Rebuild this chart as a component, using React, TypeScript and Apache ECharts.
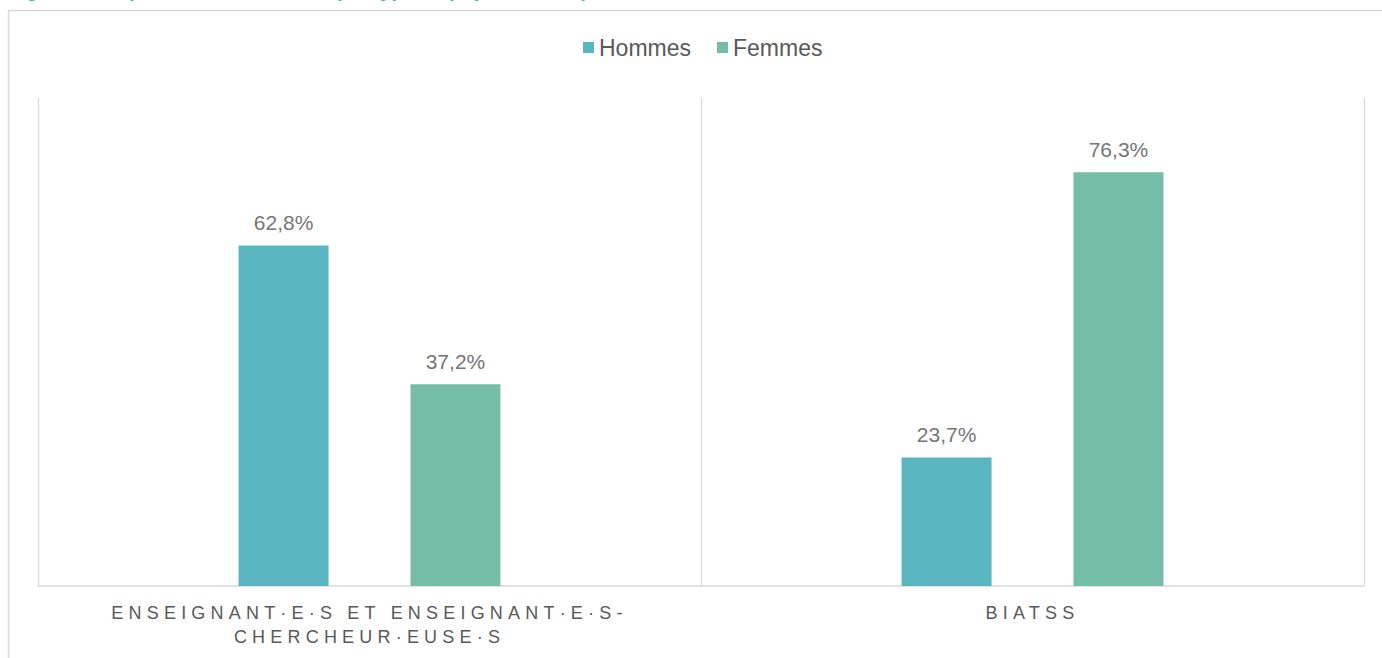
import React, { useEffect, useRef } from "react";
import * as echarts from "echarts";

const titleText =
  "Figure 3 : Répartition des effectifs par type de population et par sexe en 2019";
const categories = [
  "ENSEIGNANT·E·S ET ENSEIGNANT·E·S-\nCHERCHEUR·EUSE·S",
  "BIATSS",
];
const seriesNames = ["Hommes", "Femmes"];
const hommes = [62.8, 23.7];
const femmes = [37.2, 76.3];
const colors = ["#59b5bf", "#76bda7"];

const FONT = "'Liberation Sans', Arial, sans-serif";

export default function App() {
  const ref = useRef<HTMLDivElement>(null);
  useEffect(() => {
    if (!ref.current) return;
    const chart = echarts.init(ref.current, null, { renderer: "svg" });
    const fmt = (p: any) => p.value.toFixed(1).replace(".", ",") + "%";
    const label = {
      show: true,
      position: "top",
      distance: 12,
      formatter: fmt,
      fontSize: 21,
      color: "#767676",
      fontFamily: FONT,
    };
    chart.setOption({
      animation: false,
      backgroundColor: "#ffffff",
      textStyle: { fontFamily: FONT },
      graphic: [
        {
          type: "rect",
          shape: { x: 8.5, y: 10.5, width: 1420, height: 700 },
          style: { fill: "none", stroke: "#d9d9d9", lineWidth: 1.5 },
          silent: true,
        },
        {
          type: "text",
          x: 8,
          y: 0,
          style: {
            text: titleText,
            fill: "#4aa9c2",
            font: "bold 20px " + FONT,
            verticalAlign: "bottom",
          },
          silent: true,
        },
      ],
      legend: {
        data: seriesNames,
        left: 578,
        top: 31,
        itemWidth: 11,
        itemHeight: 11,
        itemGap: 26,
        icon: "rect",
        textStyle: { fontSize: 23, color: "#595959", fontFamily: FONT },
      },
      grid: { left: 38, right: 18, top: 98, bottom: 72 },
      xAxis: {
        type: "category",
        data: categories,
        axisLine: { lineStyle: { color: "#d9d9d9", width: 1.5 } },
        axisTick: { show: false },
        splitLine: { show: true, interval: 0, lineStyle: { color: "#d9d9d9", width: 1.2 } },
        axisLabel: {
          interval: 0,
          margin: 15,
          fontSize: 18,
          lineHeight: 24,
          color: "#595958",
          fontFamily: FONT,
        },
      },
      yAxis: {
        type: "value",
        min: 0,
        max: 90,
        show: false,
        splitLine: { show: false },
      },
      series: [
        {
          name: seriesNames[0],
          type: "bar",
          data: hommes,
          barWidth: 90,
          barGap: "91%",
          itemStyle: { color: colors[0] },
          label,
        },
        {
          name: seriesNames[1],
          type: "bar",
          data: femmes,
          barWidth: 90,
          barGap: "91%",
          itemStyle: { color: colors[1] },
          label,
        },
      ],
    });
    return () => chart.dispose();
  }, []);
  return (
    <>
      <style>{`
        body { margin: 0; }
        .chartbox text[fill="#595958"] { letter-spacing: 5.2px; }
      `}</style>
      <div
        className="chartbox"
        ref={ref}
        style={{ position: "fixed", left: 0, top: 0, width: 1382, height: 658 }}
      />
    </>
  );
}
